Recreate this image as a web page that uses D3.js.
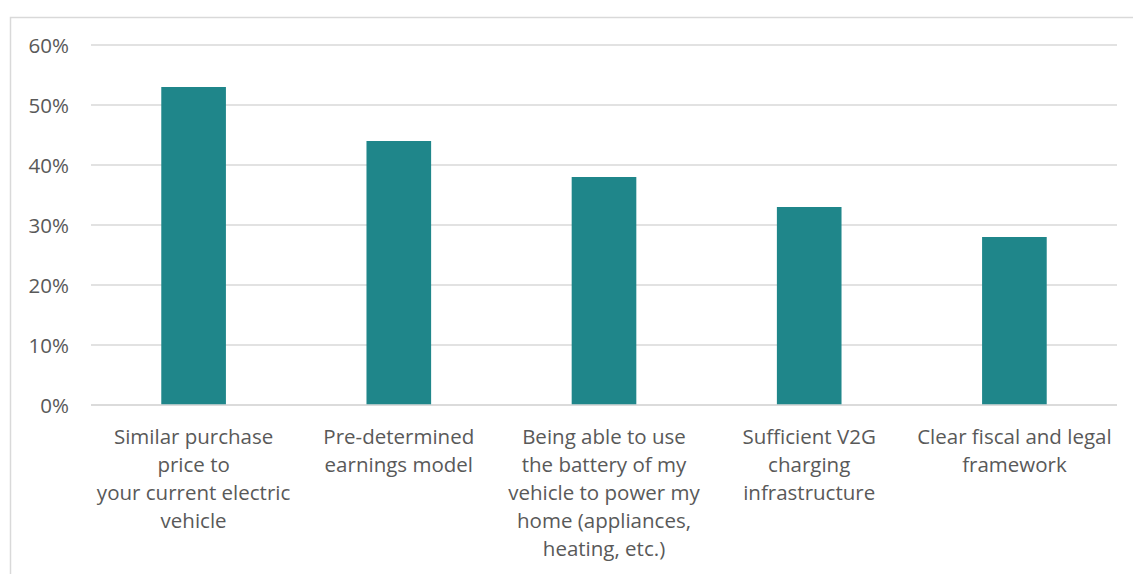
<!DOCTYPE html>
<html>
<head>
<meta charset="utf-8">
<script src="https://cdn.jsdelivr.net/npm/d3@7"></script>
<style>
  html, body { margin: 0; padding: 0; background: #fff; }
  svg { display: block; }
  text { font-family: "Open Sans", Lato, "Liberation Sans", sans-serif; fill: #595959; }
</style>
</head>
<body>
<svg id="chart" width="1133" height="574"></svg>
<script>
// Survey results: share of respondents per V2G incentive
const categories = [
  ["Similar purchase", "price to", "your current electric", "vehicle"],
  ["Pre-determined", "earnings model"],
  ["Being able to use", "the battery of my", "vehicle to power my", "home (appliances,", "heating, etc.)"],
  ["Sufficient V2G", "charging", "infrastructure"],
  ["Clear fiscal and legal", "framework"]
];
const values = [0.53, 0.44, 0.38, 0.33, 0.28];
const yTicks = [0, 0.1, 0.2, 0.3, 0.4, 0.5, 0.6];

const svg = d3.select("#chart");
const margin = { left: 91, right: 1117, top: 45, bottom: 405 };
const fontSize = 20.5;

// Outer frame (top and left edges visible)
svg.append("path")
  .attr("d", "M10.5,574 V17.5 H1133")
  .attr("fill", "none")
  .attr("stroke", "#d9d9d9")
  .attr("stroke-width", 1.5);

const x = d3.scaleBand()
  .domain(d3.range(categories.length))
  .range([margin.left, margin.right])
  .paddingInner(0.685)
  .paddingOuter(0.3425);

const y = d3.scaleLinear().domain([0, 0.6]).range([margin.bottom, margin.top]);

// Gridlines
svg.append("g").selectAll("line").data(yTicks).join("line")
  .attr("x1", margin.left).attr("x2", margin.right)
  .attr("y1", d => y(d)).attr("y2", d => y(d))
  .attr("stroke", "#d9d9d9").attr("stroke-width", 1.5);

// Y axis labels
const yAxis = d3.axisLeft(y).tickValues(yTicks).tickFormat(d3.format(".0%")).tickSize(0).tickPadding(0);
svg.append("g")
  .attr("transform", "translate(69,0)")
  .call(yAxis)
  .call(g => g.select(".domain").remove())
  .call(g => g.selectAll("text")
    .attr("font-size", fontSize)
    .attr("font-family", "'Open Sans', Lato, sans-serif")
    .attr("fill", "#595959")
    .attr("dy", "0.35em"));

// Bars
svg.append("g").selectAll("rect").data(values).join("rect")
  .attr("x", (d, i) => x(i))
  .attr("width", x.bandwidth())
  .attr("y", d => y(d))
  .attr("height", d => y(0) - y(d))
  .attr("fill", "#1F868A");

// Redraw baseline over bars
svg.append("line")
  .attr("x1", margin.left).attr("x2", margin.right)
  .attr("y1", y(0)).attr("y2", y(0))
  .attr("stroke", "#d9d9d9").attr("stroke-width", 1.5);

// Category labels
const labels = svg.append("g").selectAll("text").data(categories).join("text")
  .attr("text-anchor", "middle")
  .attr("font-size", fontSize)
  .attr("x", (d, i) => x(i) + x.bandwidth() / 2)
  .attr("y", 437);
labels.selectAll("tspan").data(d => d).join("tspan")
  .attr("x", function() { return d3.select(this.parentNode).attr("x"); })
  .attr("dy", (d, i) => i === 0 ? "0.35em" : 28)
  .text(d => d);
</script>
</body>
</html>
